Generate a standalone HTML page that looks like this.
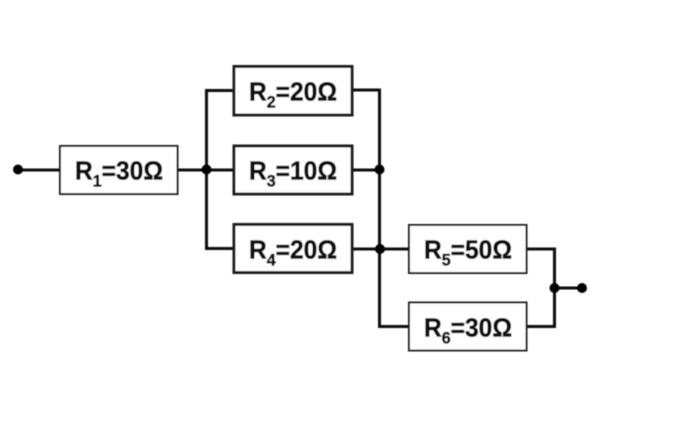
<!DOCTYPE html>
<html>
<head>
<meta charset="utf-8">
<style>
html,body{margin:0;padding:0;background:#fff;width:700px;height:426px;overflow:hidden}
svg{display:block}
text{font-family:"Liberation Sans",sans-serif;font-weight:bold;font-size:26px;fill:#111;stroke:#111;stroke-width:.6px}
tspan.s{font-size:17px}
</style>
</head>
<body>
<svg width="700" height="426" viewBox="0 0 700 426" xmlns="http://www.w3.org/2000/svg">
<defs><filter id="b" x="-5%" y="-5%" width="110%" height="110%"><feGaussianBlur stdDeviation="0.45"/></filter></defs>
<g filter="url(#b)">
<g fill="none" stroke="#111" stroke-width="3">
<path d="M18 170H60"/>
<path d="M177 170H234"/>
<path d="M234 90.500H206.500V248.500H234"/>
<path d="M352 90H379.500V326.500H409"/>
<path d="M352 170H380"/>
<path d="M352 249H409"/>
<path d="M527 249H554.500V326.500H527"/>
<path d="M554 288H582"/>
</g>
<g fill="#fff" stroke="#1a1a1a">
<rect x="60" y="146" width="117.500" height="48" stroke-width="2"/>
<rect x="234" y="66.500" width="118" height="48.500" stroke-width="3"/>
<rect x="234" y="146" width="118" height="48" stroke-width="3"/>
<rect x="234" y="224.500" width="118" height="48" stroke-width="3"/>
<rect x="409" y="225" width="117.500" height="48" stroke-width="2"/>
<rect x="409" y="302.500" width="117.500" height="48" stroke-width="2"/>
</g>
<g fill="#000">
<circle cx="18" cy="169.500" r="5"/>
<circle cx="206.500" cy="169.500" r="5"/>
<circle cx="379.500" cy="169.500" r="5"/>
<circle cx="380" cy="249" r="5"/>
<circle cx="554.500" cy="288" r="5"/>
<circle cx="582" cy="288" r="5"/>
</g>
<text x="75" y="179.500" textLength="88" lengthAdjust="spacingAndGlyphs">R<tspan class="s" dy="7">1</tspan><tspan dy="-7">=30Ω</tspan></text>
<text x="249" y="100.500" textLength="88" lengthAdjust="spacingAndGlyphs">R<tspan class="s" dy="7">2</tspan><tspan dy="-7">=20Ω</tspan></text>
<text x="249" y="179.500" textLength="88" lengthAdjust="spacingAndGlyphs">R<tspan class="s" dy="7">3</tspan><tspan dy="-7">=10Ω</tspan></text>
<text x="249" y="258.500" textLength="88" lengthAdjust="spacingAndGlyphs">R<tspan class="s" dy="7">4</tspan><tspan dy="-7">=20Ω</tspan></text>
<text x="424" y="258.500" textLength="88" lengthAdjust="spacingAndGlyphs">R<tspan class="s" dy="7">5</tspan><tspan dy="-7">=50Ω</tspan></text>
<text x="424" y="336.500" textLength="88" lengthAdjust="spacingAndGlyphs">R<tspan class="s" dy="7">6</tspan><tspan dy="-7">=30Ω</tspan></text>
</g>
</svg>
</body>
</html>
